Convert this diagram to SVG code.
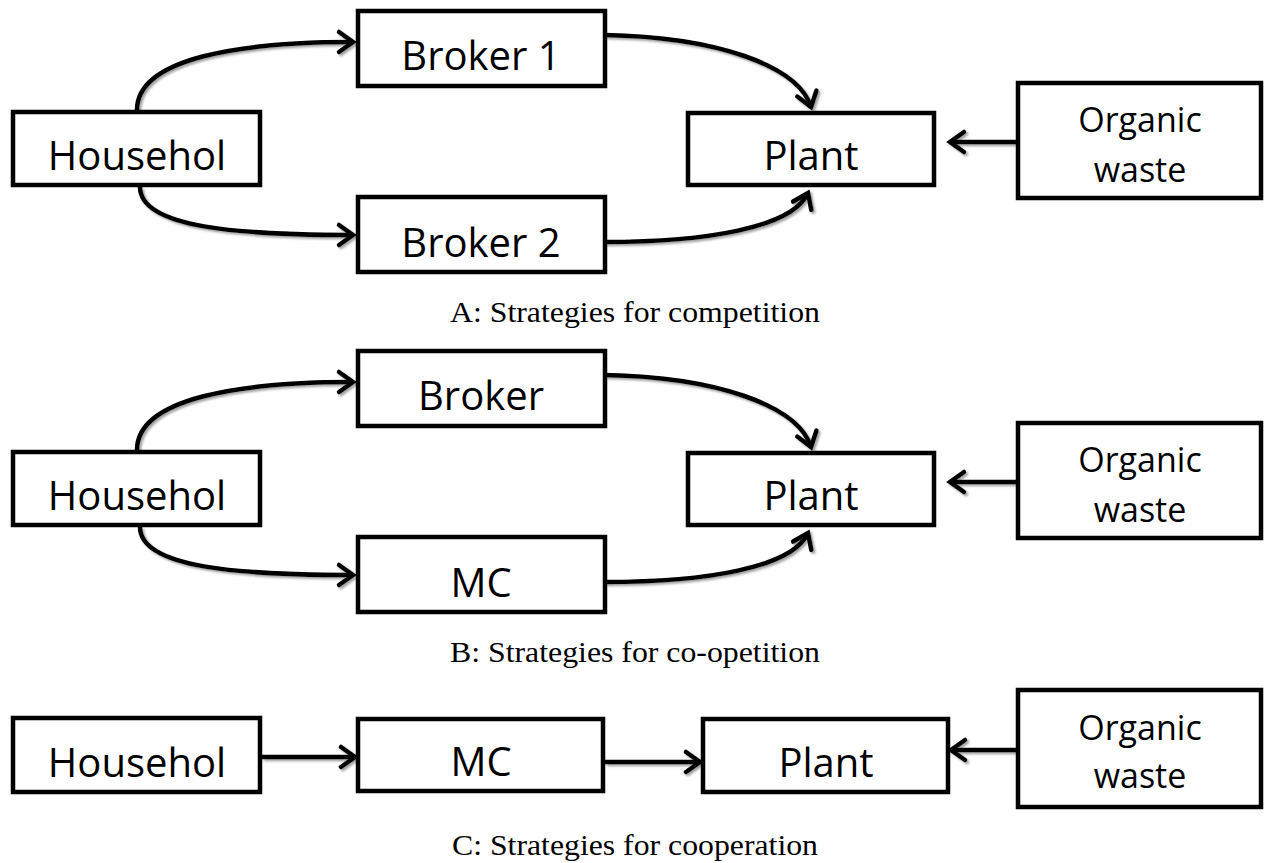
<svg xmlns="http://www.w3.org/2000/svg" width="1264" height="863" viewBox="0 0 1264 863">
<style>
.box{fill:#fff;stroke:#000;stroke-width:4.5}
.lbl{font-family:"Open Sans","Liberation Sans",sans-serif;font-size:40px;fill:#000;text-anchor:middle}
.sm{font-size:34px}
.cap{font-family:"Liberation Serif","Times New Roman",serif;font-size:29px;fill:#000}
.con{fill:none;stroke:#000;stroke-width:4.5;marker-end:url(#arr)}
</style>
<defs>
<marker id="arr" markerUnits="userSpaceOnUse" viewBox="-20 -14 24 28" refX="0" refY="0" markerWidth="24" markerHeight="28" orient="auto" overflow="visible">
<path d="M-14,-10 L0,0 L-14,10" fill="none" stroke="#000" stroke-width="4.5" stroke-linecap="round"/>
</marker>
<filter id="sh" x="-10%" y="-10%" width="120%" height="120%">
<feDropShadow dx="2" dy="2" stdDeviation="1" flood-color="#666" flood-opacity="0.6"/>
</filter>
</defs>
<g id="connectors" filter="url(#sh)">
<path class="con" d="M137,110 C137,58 240,42 353,42"/>
<path class="con" d="M140,187 C140,228 240,235 353,235"/>
<path class="con" d="M605,35 C715,37 798,65 811,107"/>
<path class="con" d="M605,242 C705,242 792,228 808,193"/>
<path class="con" d="M1018,142 L950,142"/>
<path class="con" d="M137,450 C137,398 240,382 353,382"/>
<path class="con" d="M140,527 C140,568 240,575 353,575"/>
<path class="con" d="M605,375 C715,377 798,405 811,447"/>
<path class="con" d="M605,582 C705,582 792,568 808,533"/>
<path class="con" d="M1018,482 L950,482"/>
<path class="con" d="M262,757 L355,757"/>
<path class="con" d="M605,762 L700,762"/>
<path class="con" d="M1018,750 L951,750"/>
</g>
<g id="a-household"><rect class="box" x="13" y="112" width="247" height="73"/><text class="lbl" x="137" y="170">Househol</text></g>
<g id="a-broker1"><rect class="box" x="358" y="11" width="247" height="75"/><text class="lbl" x="481" y="70">Broker 1</text></g>
<g id="a-broker2"><rect class="box" x="358" y="197" width="247" height="75"/><text class="lbl" x="481" y="257">Broker 2</text></g>
<g id="a-plant"><rect class="box" x="688" y="113" width="246" height="72"/><text class="lbl" x="811" y="170">Plant</text></g>
<g id="a-organic"><rect class="box" x="1018" y="83" width="243" height="115"/><text class="lbl sm" x="1140" y="132">Organic</text><text class="lbl sm" x="1140" y="182">waste</text></g>
<text id="cap-a" class="cap" x="450" y="322" textLength="370" lengthAdjust="spacingAndGlyphs">A: Strategies for competition</text>

<g id="b-household"><rect class="box" x="13" y="452" width="247" height="73"/><text class="lbl" x="137" y="510">Househol</text></g>
<g id="b-broker"><rect class="box" x="358" y="351" width="247" height="75"/><text class="lbl" x="481" y="410">Broker</text></g>
<g id="b-mc"><rect class="box" x="358" y="537" width="247" height="75"/><text class="lbl" x="481" y="597">MC</text></g>
<g id="b-plant"><rect class="box" x="688" y="453" width="246" height="72"/><text class="lbl" x="811" y="510">Plant</text></g>
<g id="b-organic"><rect class="box" x="1018" y="423" width="243" height="115"/><text class="lbl sm" x="1140" y="472">Organic</text><text class="lbl sm" x="1140" y="522">waste</text></g>
<text id="cap-b" class="cap" x="450" y="662" textLength="370" lengthAdjust="spacingAndGlyphs">B: Strategies for co-opetition</text>

<g id="c-household"><rect class="box" x="13" y="718" width="247" height="74"/><text class="lbl" x="137" y="777">Househol</text></g>
<g id="c-mc"><rect class="box" x="358" y="719" width="245" height="72"/><text class="lbl" x="481" y="776">MC</text></g>
<g id="c-plant"><rect class="box" x="703" y="719" width="245" height="73"/><text class="lbl" x="826" y="777">Plant</text></g>
<g id="c-organic"><rect class="box" x="1018" y="690" width="243" height="117"/><text class="lbl sm" x="1140" y="740">Organic</text><text class="lbl sm" x="1140" y="788">waste</text></g>
<text id="cap-c" class="cap" x="452" y="855" textLength="366" lengthAdjust="spacingAndGlyphs">C: Strategies for cooperation</text>
</svg>
